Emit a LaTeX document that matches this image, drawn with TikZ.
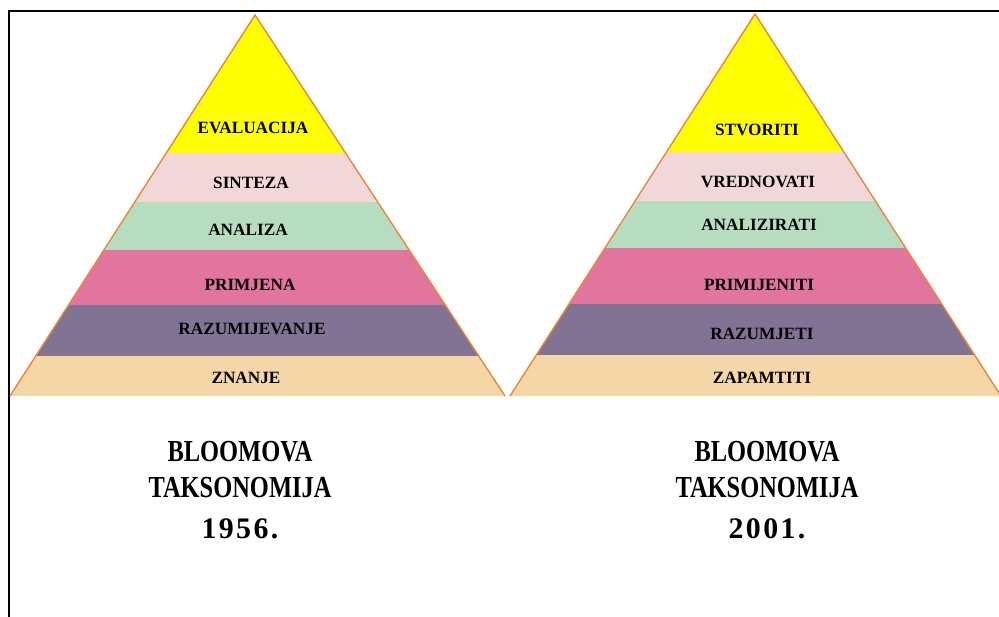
\documentclass[tikz,border=0pt]{standalone}
\usepackage{fontspec}
\setmainfont{Liberation Serif}
\newfontfamily\titlefont[FakeStretch=0.8]{Liberation Serif}
\newfontfamily\yearfont[LetterSpace=8]{Liberation Serif}
\definecolor{lvlyellow}{RGB}{255,255,0}
\definecolor{lvlpink}{RGB}{241,215,216}
\definecolor{lvlgreen}{RGB}{183,221,193}
\definecolor{lvlmagenta}{RGB}{226,117,158}
\definecolor{lvlpurple}{RGB}{128,115,148}
\definecolor{lvlpeach}{RGB}{245,214,166}
\definecolor{pyredge}{RGB}{232,135,60}
\tikzset{
  level/.style={font=\bfseries\fontsize{9.8}{11}\selectfont},
  title/.style={font=\titlefont\bfseries\fontsize{17.4}{20}\selectfont},
  year/.style={font=\yearfont\bfseries\fontsize{17}{20}\selectfont},
  edge/.style={draw=pyredge, line width=0.8pt}
}

\begin{document}
\begin{tikzpicture}[x=0.02cm,y=-0.02cm]
\useasboundingbox (0,0) rectangle (999,616);
%frame
\draw[line width=1.6pt] (9,640) -- (9,11) -- (1020,11);

%left pyramid
\begin{scope}
\clip (255,15) -- (10,396) -- (505,396) -- cycle;
\fill[lvlyellow] (0,0) rectangle (520,153);
\fill[lvlpink] (0,153) rectangle (520,202);
\fill[lvlgreen] (0,202) rectangle (520,250);
\fill[lvlmagenta] (0,250) rectangle (520,305);
\fill[lvlpurple] (0,305) rectangle (520,356);
\fill[lvlpeach] (0,356) rectangle (520,396);
\end{scope}
\draw[edge] (10,396) -- (255,15) -- (505,396);

\node[level] (evaluacija) at (253,128) {EVALUACIJA};
\node[level] (sinteza) at (251,183) {SINTEZA};
\node[level] (analiza) at (248,230) {ANALIZA};
\node[level] (primjena) at (250,285) {PRIMJENA};
\node[level] (razumijevanje) at (252,329) {RAZUMIJEVANJE};
\node[level] (znanje) at (246,378) {ZNANJE};

%right pyramid
\begin{scope}
\clip (755,14) -- (510,396) -- (1001,396) -- cycle;
\fill[lvlyellow] (500,0) rectangle (1010,152);
\fill[lvlpink] (500,152) rectangle (1010,201);
\fill[lvlgreen] (500,201) rectangle (1010,248);
\fill[lvlmagenta] (500,248) rectangle (1010,304);
\fill[lvlpurple] (500,304) rectangle (1010,355);
\fill[lvlpeach] (500,355) rectangle (1010,396);
\end{scope}
\draw[edge] (510,396) -- (755,14) -- (1001,396);

\node[level] (stvoriti) at (757,130) {STVORITI};
\node[level] (vrednovati) at (758,182) {VREDNOVATI};
\node[level] (analizirati) at (759,225) {ANALIZIRATI};
\node[level] (primijeniti) at (759,285) {PRIMIJENITI};
\node[level] (razumjeti) at (762,334) {RAZUMJETI};
\node[level] (zapamtiti) at (762,378) {ZAPAMTITI};

%titles
\node[title] (bloomA) at (240,452) {BLOOMOVA};
\node[title] (taksA) at (240,488) {TAKSONOMIJA};
\node[year] (yearA) at (240,529) {1956.};
\node[title] (bloomB) at (767,452) {BLOOMOVA};
\node[title] (taksB) at (767,488) {TAKSONOMIJA};
\node[year] (yearB) at (767,529) {2001.};
\end{tikzpicture}
\end{document}
